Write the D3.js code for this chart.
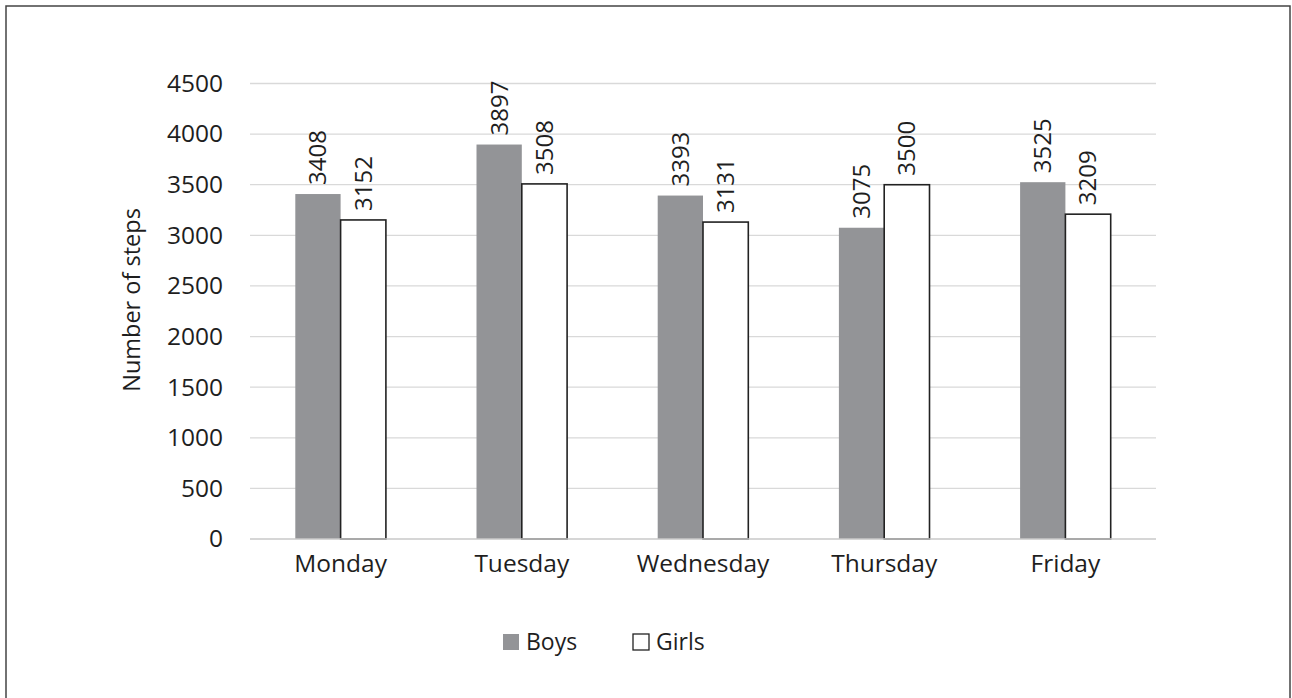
<!DOCTYPE html>
<html lang="en">
<head>
  <meta charset="UTF-8">
  <title>Number of steps - Boys and Girls</title>
  <script src="https://d3js.org/d3.v7.min.js"></script>
  <style>
    body { margin: 0; background: #fff; }
    text { font-family: "Open Sans", sans-serif; fill: #1e1e1e; }
  </style>
</head>
<body>
<div id="chart"></div>
<script>
// Data
const days = ["Monday", "Tuesday", "Wednesday", "Thursday", "Friday"];
const boys = [3408, 3897, 3393, 3075, 3525];
const girls = [3152, 3508, 3131, 3500, 3209];
const yTicks = [0, 500, 1000, 1500, 2000, 2500, 3000, 3500, 4000, 4500];

const W = 1292, H = 698;
const margin = { top: 83.5, right: 136, bottom: 159, left: 250 };
const width = W - margin.left - margin.right;
const height = H - margin.top - margin.bottom;

const svg = d3.select("#chart").append("svg")
  .attr("width", W)
  .attr("height", H);

// outer frame (bottom edge runs off the picture)
svg.append("rect")
  .attr("x", 6).attr("y", 6)
  .attr("width", 1284).attr("height", 700)
  .attr("fill", "none")
  .attr("stroke", "#444")
  .attr("stroke-width", 1.5);

const g = svg.append("g")
  .attr("transform", `translate(${margin.left},${margin.top})`);

const x = d3.scaleBand().domain(days).range([0, width]);
const x1 = d3.scaleBand().domain(["boys", "girls"]).range([x.bandwidth() / 4, x.bandwidth() * 3 / 4]);
const y = d3.scaleLinear().domain([0, 4500]).range([height, 0]);

// gridlines
g.selectAll(".grid")
  .data(yTicks.filter(d => d > 0))
  .enter().append("line")
  .attr("x1", 0).attr("x2", width)
  .attr("y1", d => y(d)).attr("y2", d => y(d))
  .attr("stroke", "#d9d9d9")
  .attr("stroke-width", 1.3);

// y axis labels
const yAxis = g.append("g")
  .call(d3.axisLeft(y).tickValues(yTicks).tickFormat(d3.format("d")).tickSize(0).tickPadding(27));
yAxis.select(".domain").remove();
yAxis.selectAll("text")
  .style("font-size", "24.5px")
  .style("font-family", "'Open Sans', sans-serif")
  .attr("fill", "#1e1e1e");

// bars
const groups = g.selectAll(".day")
  .data(days)
  .enter().append("g")
  .attr("transform", d => `translate(${x(d)},0)`);

groups.append("rect")
  .attr("x", x1("boys"))
  .attr("y", (d, i) => y(boys[i]))
  .attr("width", x1.bandwidth())
  .attr("height", (d, i) => height - y(boys[i]))
  .attr("fill", "#939497");

groups.append("rect")
  .attr("x", x1("girls"))
  .attr("y", (d, i) => y(girls[i]))
  .attr("width", x1.bandwidth())
  .attr("height", (d, i) => height - y(girls[i]))
  .attr("fill", "#fff")
  .attr("stroke", "#222")
  .attr("stroke-width", 1.6);

// baseline
g.append("line")
  .attr("x1", 0).attr("x2", width)
  .attr("y1", height).attr("y2", height)
  .attr("stroke", "#c8c8c8")
  .attr("stroke-width", 1.5);

// value labels, rotated
function addLabels(key, vals) {
  groups.append("text")
    .attr("transform", (d, i) => {
      const cx = x1(key) + x1.bandwidth() / 2;
      return `translate(${cx},${y(vals[i]) - 9}) rotate(-90)`;
    })
    .attr("dy", "0.35em")
    .attr("text-anchor", "start")
    .style("font-size", "24px")
    .text((d, i) => vals[i]);
}
addLabels("boys", boys);
addLabels("girls", girls);

// x axis labels
const xAxis = g.append("g")
  .attr("transform", `translate(0,${height})`)
  .call(d3.axisBottom(x).tickSize(0).tickPadding(16));
xAxis.select(".domain").remove();
xAxis.selectAll("text")
  .style("font-size", "24.5px")
  .style("font-family", "'Open Sans', sans-serif")
  .attr("fill", "#1e1e1e");

// y axis title
svg.append("text")
  .attr("transform", `translate(132,300) rotate(-90)`)
  .attr("text-anchor", "middle")
  .attr("dy", "0.35em")
  .style("font-size", "23.5px")
  .text("Number of steps");

// legend
const legendItems = [
  { name: "Boys", fill: "#939497", stroke: "none", x: 503 },
  { name: "Girls", fill: "#fff", stroke: "#222", x: 633 }
];
const lg = svg.append("g");
legendItems.forEach(it => {
  lg.append("rect")
    .attr("x", it.x).attr("y", 634)
    .attr("width", 16).attr("height", 16)
    .attr("fill", it.fill)
    .attr("stroke", it.stroke)
    .attr("stroke-width", 1.3);
  lg.append("text")
    .attr("x", it.x + 23).attr("y", 642)
    .attr("dy", "0.35em")
    .style("font-size", "23px")
    .text(it.name);
});
</script>
</body>
</html>
